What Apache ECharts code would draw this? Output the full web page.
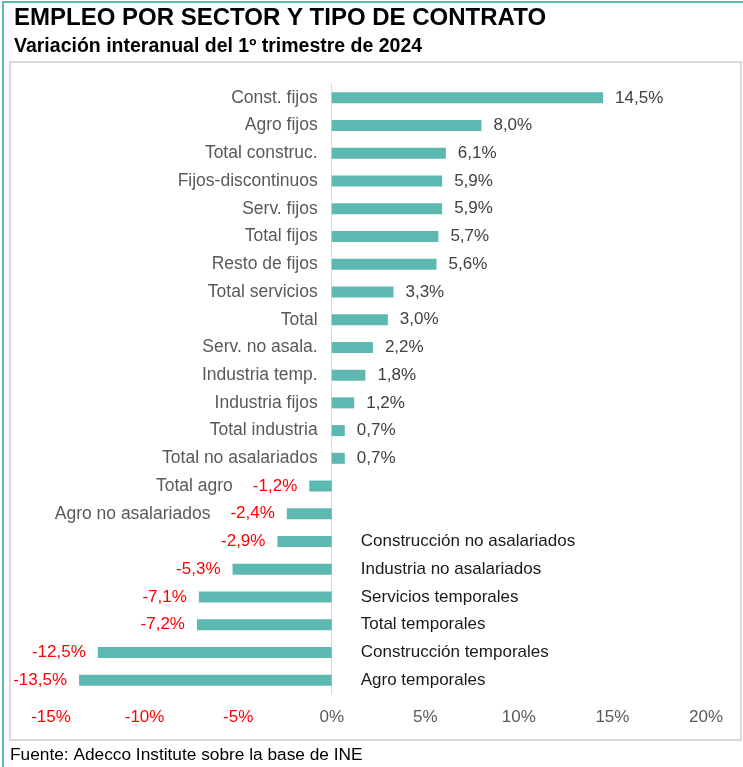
<!DOCTYPE html>
<html>
<head>
<meta charset="utf-8">
<script src="https://cdn.jsdelivr.net/npm/echarts@6/dist/echarts.min.js"></script>
<style>
html,body{margin:0;padding:0;background:#fff;}
#c{width:743px;height:767px;}
</style>
</head>
<body>
<div id="c"></div>
<script>
const categories = ['Const. fijos','Agro fijos','Total construc.','Fijos-discontinuos','Serv. fijos','Total fijos','Resto de fijos','Total servicios','Total','Serv. no asala.','Industria temp.','Industria fijos','Total industria','Total no asalariados','Total agro','Agro no asalariados','Construcción no asalariados','Industria no asalariados','Servicios temporales','Total temporales','Construcción temporales','Agro temporales'];
const values = [14.5, 8.0, 6.1, 5.9, 5.9, 5.7, 5.6, 3.3, 3.0, 2.2, 1.8, 1.2, 0.7, 0.7, -1.2, -2.4, -2.9, -5.3, -7.1, -7.2, -12.5, -13.5];
const namesOnRight = ['Construcción no asalariados','Industria no asalariados','Servicios temporales','Total temporales','Construcción temporales','Agro temporales'];
const xTicks = { min: -15, max: 20, interval: 5 };

const FONT = "'Liberation Sans', Arial, sans-serif";
const TEAL = '#5cb8b1';
const fmt = v => v.toFixed(1).replace('.', ',') + '%';

// visible bars with value labels
const barData = values.map((v, i) => {
  const name = categories[i];
  if (v >= 0) {
    return { value: v, label: { position: 'right', color: '#404040', formatter: () => fmt(v) } };
  }
  if (namesOnRight.includes(name)) {
    return { value: v, label: { position: 'left', color: '#ff0000', formatter: () => fmt(v) } };
  }
  return { value: v, label: { position: 'left', formatter: () => '{n|' + name + '}{v|' + fmt(v) + '}' } };
});

// transparent overlay carrying category names next to the zero line
const nameData = values.map((v, i) => {
  const name = categories[i];
  if (v >= 0) {
    return { value: v, label: { show: true, position: 'left', distance: 14, color: '#595959', fontSize: 17.5, formatter: () => name } };
  }
  if (namesOnRight.includes(name)) {
    return { value: v, label: { show: true, position: 'right', distance: 29, color: '#1a1a1a', fontSize: 17, formatter: () => name } };
  }
  return { value: v, label: { show: false } };
});

const chart = echarts.init(document.getElementById('c'), null, { renderer: 'canvas' });
chart.setOption({
  animation: false,
  textStyle: { fontFamily: FONT },
  grid: { left: 51, right: 37, top: 84, bottom: 73, containLabel: false, outerBoundsMode: 'none' },
  xAxis: {
    type: 'value', min: xTicks.min, max: xTicks.max, interval: xTicks.interval,
    axisLine: { show: false }, axisTick: { show: false }, splitLine: { show: false },
    axisLabel: {
      margin: 15, fontSize: 17, fontFamily: FONT,
      formatter: v => v + '%',
      color: v => (v < 0 ? '#ff0000' : '#595959')
    }
  },
  yAxis: {
    type: 'category', data: categories, inverse: true,
    axisLine: { show: true, onZero: true, lineStyle: { color: '#d9d9d9', width: 1 } },
    axisTick: { show: false },
    axisLabel: { show: false }
  },
  series: [
    {
      type: 'bar', data: barData, barWidth: 11, barGap: '-100%',
      itemStyle: { color: TEAL },
      label: {
        show: true, distance: 12, fontSize: 17, fontFamily: FONT,
        rich: {
          n: { color: '#595959', fontSize: 17.5, fontFamily: FONT, padding: [0, 20, 0, 0] },
          v: { color: '#ff0000', fontSize: 17, fontFamily: FONT }
        }
      }
    },
    {
      type: 'bar', data: nameData, barWidth: 11, barGap: '-100%', silent: true,
      itemStyle: { color: 'rgba(0,0,0,0)' },
      label: { show: true, fontFamily: FONT }
    }
  ],
  graphic: [
    { type: 'rect', silent: true, shape: { x: 10, y: 62, width: 731, height: 678 }, style: { fill: 'none', stroke: '#d9d9d9', lineWidth: 2 } },
    { type: 'line', silent: true, shape: { x1: 2, y1: 2, x2: 743, y2: 2 }, style: { stroke: TEAL, lineWidth: 2 } },
    { type: 'line', silent: true, shape: { x1: 3, y1: 2, x2: 3, y2: 767 }, style: { stroke: TEAL, lineWidth: 2 } },
    { type: 'text', left: 14, top: 6, style: { text: 'EMPLEO POR SECTOR Y TIPO DE CONTRATO', font: 'bold 24px ' + FONT, fill: '#000' } },
    { type: 'text', left: 14, top: 37, style: { text: 'Variación interanual del 1º trimestre de 2024', font: 'bold 19.5px ' + FONT, fill: '#000' } },
    { type: 'text', left: 10, top: 747, style: { text: 'Fuente: Adecco Institute sobre la base de INE', font: '17.3px ' + FONT, fill: '#000' } }
  ]
});
</script>
</body>
</html>
